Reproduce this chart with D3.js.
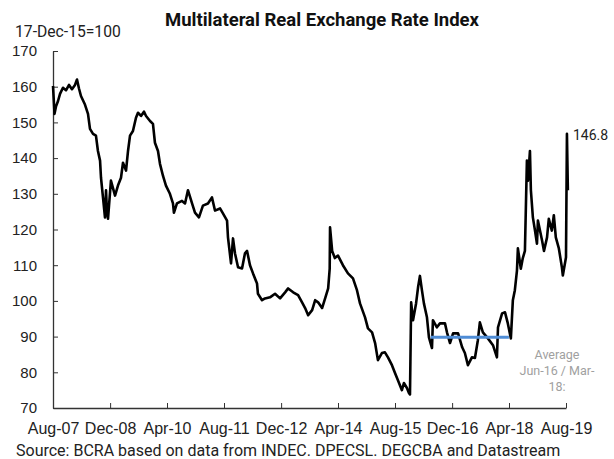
<!DOCTYPE html>
<html><head><meta charset="utf-8">
<script src="https://cdn.jsdelivr.net/npm/d3@7"></script>
<style>
body{margin:0;background:#fff;}
svg{font-family:Roboto,"Noto Sans",sans-serif;}
</style></head>
<body><svg id="c" width="614" height="459"></svg>
<script>
const title = "Multilateral Real Exchange Rate Index";
const unitLabel = "17-Dec-15=100";
const sourceText = "Source: BCRA based on data from INDEC. DPECSL. DEGCBA and Datastream";
const dates = ["2007-08-01","2007-08-14","2007-08-27","2007-09-13","2007-09-30","2007-10-25","2007-11-20","2007-12-16","2008-01-10","2008-02-05","2008-02-22","2008-03-10","2008-03-27","2008-04-30","2008-05-26","2008-06-12","2008-07-08","2008-08-02","2008-08-19","2008-09-06","2008-09-14","2008-10-01","2008-10-18","2008-10-27","2008-11-04","2008-11-13","2008-12-08","2009-01-12","2009-02-06","2009-03-04","2009-03-21","2009-04-16","2009-05-03","2009-05-20","2009-06-14","2009-07-10","2009-07-27","2009-08-22","2009-09-16","2009-10-04","2009-11-07","2009-12-02","2009-12-19","2010-01-14","2010-01-31","2010-02-26","2010-03-23","2010-04-26","2010-05-22","2010-05-30","2010-06-25","2010-08-07","2010-09-02","2010-09-27","2010-11-01","2010-11-26","2010-12-30","2011-02-02","2011-03-17","2011-04-20","2011-05-16","2011-06-28","2011-07-23","2011-08-27","2011-09-04","2011-09-30","2011-10-17","2011-11-03","2011-11-29","2012-01-02","2012-01-27","2012-02-14","2012-03-10","2012-04-05","2012-05-09","2012-05-17","2012-06-21","2012-07-16","2012-08-28","2012-10-10","2012-11-22","2013-01-04","2013-01-30","2013-03-14","2013-04-25","2013-05-29","2013-06-24","2013-07-20","2013-08-23","2013-09-18","2013-10-13","2013-11-16","2013-12-12","2014-01-07","2014-01-20","2014-01-23","2014-02-10","2014-03-05","2014-04-01","2014-05-13","2014-06-25","2014-08-07","2014-09-10","2014-10-06","2014-11-18","2014-12-13","2015-01-17","2015-02-12","2015-03-08","2015-04-11","2015-05-07","2015-06-02","2015-07-06","2015-08-01","2015-08-26","2015-09-29","2015-10-16","2015-11-11","2015-11-28","2015-12-07","2015-12-17","2016-01-02","2016-01-28","2016-02-14","2016-03-01","2016-03-18","2016-04-04","2016-04-30","2016-05-17","2016-06-12","2016-06-20","2016-07-24","2016-08-19","2016-10-01","2016-10-18","2016-11-13","2016-12-09","2017-01-21","2017-02-25","2017-03-20","2017-04-15","2017-05-19","2017-06-14","2017-07-09","2017-07-26","2017-08-21","2017-10-03","2017-11-15","2017-12-19","2017-12-28","2018-02-01","2018-02-26","2018-03-22","2018-04-17","2018-05-04","2018-05-21","2018-06-08","2018-06-16","2018-07-11","2018-07-28","2018-08-15","2018-09-01","2018-09-10","2018-09-27","2018-10-05","2018-10-22","2018-11-09","2018-11-26","2018-12-04","2019-01-08","2019-01-25","2019-02-20","2019-03-07","2019-04-02","2019-04-19","2019-05-06","2019-06-01","2019-06-27","2019-07-05","2019-08-01","2019-08-09","2019-08-17"];
const values = [160.2,152.4,154.5,156,158,159.7,159,160.5,159.3,160.5,162,159.5,157.4,155,152.4,148.2,146.8,146.3,142,139.3,134.5,129,123.4,131,125,123,133.7,129.5,132.3,134.5,138.7,136.5,142,146.3,147.6,151.3,152.7,151.8,153,151.8,150.4,149.6,144.3,142,138.4,135,132.3,130,127.3,124.7,127.3,128,127.3,131,127.3,124.7,123.4,126.7,127.3,129,125.3,125.9,124.5,122.5,117.8,110.5,117.5,113.3,109.4,109.1,113.3,114,110,107.7,104.9,102,100.2,100.7,101,102,100.7,102.4,103.5,102.4,101.6,99.6,98,96,97.4,100.2,99.6,98,100.7,103.5,109,120.6,114,112,112.7,110,107.7,106.3,103,99.3,95.4,92.3,91.2,88.2,83.4,85.4,85.6,84.2,82,79.8,77.8,75,77,75.6,74.2,73.8,99.6,94.6,99.3,103.8,107,103,99.3,95.4,89.8,86.8,94.6,92.6,93.7,93.7,91.2,88.2,90.9,90.9,87,85.4,82,84.2,84,89,94,91.2,89.5,87.6,84.2,92.6,96.5,96.8,93.7,89.5,100.2,103,108.5,114.7,109,112,114,139.3,133.7,142,131,123.4,119.7,116,122.5,117,114,117.8,123,119.7,124,117.8,114.7,109.4,107.1,112.2,146.8,131];
const xTickDates = ["2007-08-01","2008-12-01","2010-04-01","2011-08-01","2012-12-01","2014-04-01","2015-08-01","2016-12-01","2018-04-01","2019-08-01"];
const yTicks = [70,80,90,100,110,120,130,140,150,160,170];
const avgStart = "2016-06-01", avgEnd = "2018-03-31", avgValue = 89.8;
const avgLabel = ["Average","Jun-16 / Mar-","18:"];
const maxLabel = "146.8";

const parse = d3.timeParse("%Y-%m-%d");
const data = dates.map((d,i)=>({date:parse(d), v:values[i]}));
const svg = d3.select("#c");
const x = d3.scaleTime().domain([parse(xTickDates[0]), parse(xTickDates[xTickDates.length-1])]).range([53,566]);
const y = d3.scaleLinear().domain([70,170]).range([408,51]);

// axes
const xAxis = d3.axisBottom(x).tickValues(xTickDates.map(parse)).tickFormat(d3.timeFormat("%b-%y")).tickSizeInner(-5).tickSizeOuter(0).tickPadding(15);
const gx = svg.append("g").attr("transform","translate(0,408)").call(xAxis);
gx.selectAll("text").attr("font-size",16).attr("fill","#222");
gx.select(".domain").attr("stroke","#333").attr("stroke-width",1.3);
gx.selectAll(".tick line").attr("stroke","#333");

const yAxis = d3.axisLeft(y).tickValues(yTicks).tickSizeInner(-5).tickSizeOuter(0).tickPadding(16);
const gy = svg.append("g").attr("transform","translate(53,0)").call(yAxis);
gy.selectAll("text").attr("font-size",15).attr("fill","#222");
gy.select(".domain").attr("stroke","#333").attr("stroke-width",1.3);
gy.selectAll(".tick line").attr("stroke","#333");

// line
svg.append("path").datum(data)
  .attr("fill","none").attr("stroke","#000").attr("stroke-width",2.6).attr("stroke-linejoin","round")
  .attr("d", d3.line().x(d=>x(d.date)).y(d=>y(d.v)));

// average line
svg.append("line")
  .attr("x1",x(parse(avgStart))).attr("x2",x(parse(avgEnd)))
  .attr("y1",y(avgValue)).attr("y2",y(avgValue))
  .attr("stroke","#4f8dd6").attr("stroke-width",3);

// labels
svg.append("text").attr("x",322).attr("y",26).attr("text-anchor","middle").attr("font-size",18.5).attr("font-weight","bold").attr("fill","#111").text(title);
svg.append("text").attr("x",15).attr("y",37).attr("font-size",15.7).attr("fill","#222").text(unitLabel);
svg.append("text").attr("x",16).attr("y",456).attr("font-size",16).attr("fill","#222").text(sourceText);

const maxD = data.reduce((a,b)=> b.v>a.v && b.date>parse("2019-01-01") ? b : a, data[data.length-1]);
svg.append("text").attr("x",x(maxD.date)+6).attr("y",y(maxD.v)+6).attr("font-size",14).attr("fill","#222").text(maxLabel);

avgLabel.forEach((t,i)=>{
  svg.append("text").attr("x",557).attr("y",359+i*16).attr("text-anchor","middle").attr("font-size",12.5).attr("fill","#a0a0a0").text(t);
});
</script></body></html>
